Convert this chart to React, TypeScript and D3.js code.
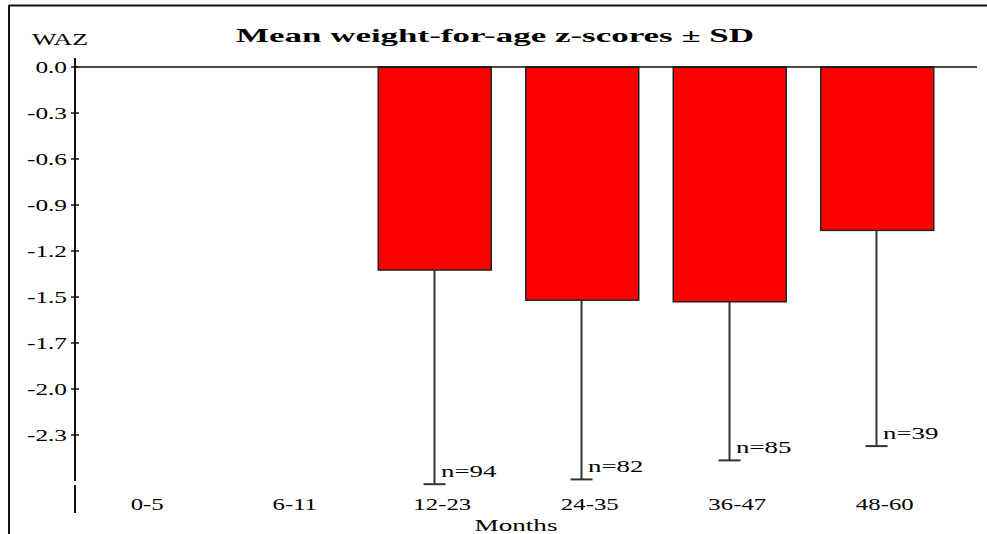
import React from 'react';
import * as d3 from 'd3';

// data
const ageGroups = ['0-5', '6-11', '12-23', '24-35', '36-47', '48-60'];
const meanWaz = [null, null, -1.28, -1.47, -1.48, -1.03];
const sdWaz = [null, null, 1.35, 1.13, 1.0, 1.36];
const counts = [null, null, 94, 82, 85, 39];
const tickValues = [0, -0.29, -0.58, -0.87, -1.16, -1.45, -1.74, -2.03, -2.32];
const tickLabels = ['0.0', '-0.3', '-0.6', '-0.9', '-1.2', '-1.5', '-1.7', '-2.0', '-2.3'];

const W = 987;
const H = 534;
const font = '"Liberation Serif", "Times New Roman", serif';
const stretch = 1.6; // text in the picture is drawn wide

function App() {
	const axisX = 75;

	// Scales
	const xscale = d3
		.scaleBand()
		.domain(ageGroups)
		.range([66, 951])
		.paddingInner(0.234)
		.paddingOuter(0.117);

	const yscale = d3.scaleLinear().domain([0, -2.9]).range([67, 527]);

	const y0 = yscale(0);

	const wideText = (x, y, txt, anchor, sx = stretch, extra = {}) => (
		<g transform={`translate(${x}, ${y}) scale(${sx}, 1)`}>
			<text x={0} y={0} textAnchor={anchor} fontFamily={font} fontSize={16} fill="#000" {...extra}>
				{txt}
			</text>
		</g>
	);

	return (
		<svg
			width={W}
			height={H}
			style={{ position: 'absolute', left: 0, top: 0, background: '#fff' }}
		>
			{/* frame */}
			<line x1={9} x2={W} y1={5.5} y2={5.5} stroke="#111" strokeWidth={2} />
			<line x1={9} x2={9} y1={5} y2={H} stroke="#111" strokeWidth={2} />

			{/* title */}
			<text
				x={236}
				y={42}
				fontFamily={font}
				fontSize={19}
				fontWeight="bold"
				textLength={518}
				lengthAdjust="spacingAndGlyphs"
				fill="#000"
			>
				Mean weight-for-age z-scores ± SD
			</text>
			{wideText(32, 45, 'WAZ', 'start', 1.62)}

			{/* bars */}
			{ageGroups.map((g, i) =>
				meanWaz[i] == null ? null : (
					<rect
						key={g}
						x={xscale(g)}
						y={y0}
						width={xscale.bandwidth()}
						height={yscale(meanWaz[i]) - y0}
						fill="#ff0000"
						stroke="#222"
						strokeWidth={1.5}
					/>
				)
			)}

			{/* error bars + n */}
			{ageGroups.map((g, i) => {
				if (meanWaz[i] == null) return null;
				const cx = Math.round(xscale(g) + xscale.bandwidth() / 2) - 0.5;
				const yb = yscale(meanWaz[i]);
				const ye = yscale(meanWaz[i] - sdWaz[i]);
				return (
					<g key={'e' + g}>
						<line x1={cx} x2={cx} y1={yb} y2={ye} stroke="#333" strokeWidth={2} />
						<line x1={cx - 11} x2={cx + 11} y1={ye} y2={ye} stroke="#333" strokeWidth={2} />
						{wideText(cx + 6.5, ye - 7.5, `n=${counts[i]}`, 'start', 1.68)}
					</g>
				);
			})}

			{/* zero line */}
			<line x1={axisX} x2={977} y1={y0} y2={y0} stroke="#111" strokeWidth={1.5} />

			{/* y axis */}
			<line x1={axisX} x2={axisX} y1={58} y2={481} stroke="#111" strokeWidth={2} />
			<line x1={axisX} x2={axisX} y1={485} y2={513} stroke="#111" strokeWidth={2} />
			{tickValues.map((t, i) => (
				<g key={'t' + i}>
					<line x1={axisX - 4} x2={axisX + 4} y1={yscale(t)} y2={yscale(t)} stroke="#111" strokeWidth={1.5} />
					{wideText(67, yscale(t) + 6, tickLabels[i], 'end', 1.58)}
				</g>
			))}

			{/* x labels */}
			{ageGroups.map((g) =>
				<React.Fragment key={'x' + g}>
					{wideText(xscale(g) + xscale.bandwidth() / 2 + 7.5, 510, g, 'middle', 1.55)}
				</React.Fragment>
			)}
			{wideText(516, 531, 'Months', 'middle', 1.7)}
		</svg>
	);
}

export default App;
